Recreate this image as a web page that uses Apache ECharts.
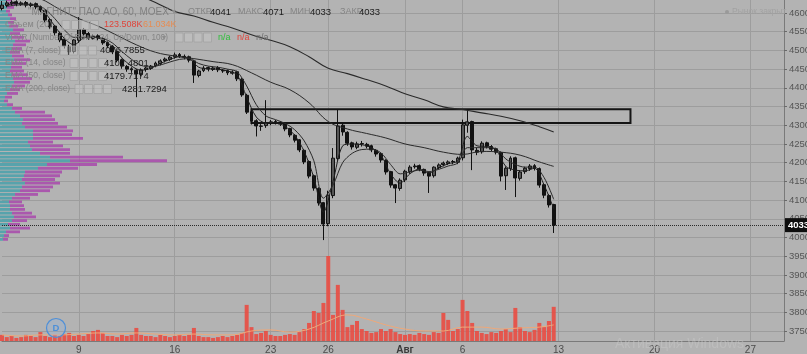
<!DOCTYPE html>
<html>
<head>
<meta charset="utf-8">
<style>
  html, body { margin: 0; padding: 0; background: #b3b3b3; }
  #chart { width: 807px; height: 354px; }
</style>
<script src="https://cdn.jsdelivr.net/npm/echarts@6/dist/echarts.min.js"></script>
</head>
<body>
<div id="chart"></div>
<script>
// hourly MOEX chart squeezed into 4 slots per trading day (Jul 3 .. Aug 31 2018)
const totalSlots = 164
const dayLabels = ['9', '16', '23', '26', 'Авг', '6', '13', '20', '27']
const dayLabelIdx = [4, 9, 14, 17, 21, 24, 29, 34, 39]

const opens = [4612,4620,4626,4630,4623,4628,4620,4625,4617,4607,4582,4565,4546,4530,4510,4497,4527,4556,4545,4532,
  4539,4532,4521,4511,4497,4475,4457,4451,4447,4436,4449,4452,4459,4465,4473,4476,4483,4489,4484,4483,
  4472,4433,4446,4454,4449,4454,4447,4446,4439,4443,4423,4380,4336,4312,4297,4299,4305,4310,4308,4304,
  4291,4273,4261,4233,4203,4165,4131,4093,4037,4112,4211,4300,4281,4253,4241,4251,4249,4245,4233,4224,
  4206,4176,4141,4131,4154,4176,4189,4192,4182,4173,4165,4187,4195,4198,4203,4201,4213,4300,4310,4233,
  4229,4253,4243,4237,4227,4165,4184,4213,4158,4176,4184,4192,4184,4141,4112,4088]
const closes = [4621,4627,4629,4624,4627,4621,4624,4616,4608,4581,4563,4547,4528,4512,4496,4528,4555,4544,4533,4538,
  4533,4520,4512,4496,4474,4458,4450,4448,4437,4448,4453,4458,4466,4472,4477,4482,4488,4485,4482,4474,
  4434,4445,4453,4450,4453,4448,4445,4440,4442,4424,4381,4335,4311,4298,4298,4306,4309,4309,4303,4290,
  4274,4260,4234,4202,4164,4132,4092,4036,4113,4212,4298,4282,4252,4242,4250,4250,4244,4234,4223,4207,
  4175,4140,4132,4153,4177,4188,4191,4183,4172,4164,4188,4194,4199,4202,4202,4212,4301,4309,4234,4228,
  4252,4244,4236,4228,4164,4185,4212,4159,4175,4185,4191,4185,4140,4113,4087,4033]
const lows = [4607,4615,4620,4618,4619,4615,4615,4610,4602,4575,4557,4540,4522,4505,4488,4492,4520,4538,4528,4528,
  4527,4515,4506,4490,4468,4451,4443,4440,4375,4430,4443,4448,4455,4460,4468,4472,4478,4480,4476,4468,
  4413,4428,4442,4444,4445,4442,4440,4434,4435,4418,4376,4330,4302,4270,4285,4293,4300,4302,4298,4284,
  4268,4254,4228,4196,4158,4125,4085,3993,4030,4105,4205,4272,4245,4235,4236,4243,4238,4228,4216,4200,
  4168,4133,4092,4125,4148,4170,4184,4177,4165,4119,4160,4182,4190,4194,4196,4196,4206,4280,4180,4220,
  4224,4238,4230,4222,4150,4127,4178,4108,4152,4170,4178,4179,4133,4105,4080,4012]
const highs = [4632,4633,4634,4634,4631,4632,4628,4628,4620,4610,4586,4568,4550,4534,4515,4530,4589,4560,4549,4542,
  4543,4536,4524,4514,4499,4478,4461,4455,4450,4452,4456,4461,4470,4476,4481,4486,4494,4493,4489,4486,
  4475,4448,4458,4457,4457,4458,4450,4449,4447,4446,4426,4384,4345,4316,4303,4367,4314,4314,4311,4307,
  4293,4276,4263,4236,4206,4168,4134,4095,4125,4239,4341,4305,4284,4256,4256,4258,4253,4248,4236,4226,
  4209,4178,4143,4158,4181,4193,4197,4195,4184,4175,4190,4198,4203,4206,4207,4216,4315,4341,4312,4240,
  4257,4256,4247,4240,4230,4190,4217,4216,4180,4189,4196,4196,4187,4144,4116,4090]

// volume, thousands of shares
const volumes = [22,14,18,11,14,22,18,14,32,18,14,22,18,25,29,18,
  22,18,25,36,40,29,18,18,14,22,18,22,47,22,18,
  18,14,22,18,14,18,22,18,22,47,18,14,14,11,14,18,14,
  18,22,29,130,50,25,29,36,22,18,18,22,25,
  22,32,43,65,108,101,137,306,94,202,112,50,
  58,72,43,36,29,32,43,36,43,32,25,22,25,22,29,25,22,32,29,101,76,36,43,
  148,108,65,36,29,25,32,29,36,43,32,119,50,36,32,40,65,50,72,123]

const maSlots = [0,4,8,12,16,20,24,28,32,36,40,44,48,52,56,60,64,68,72,76,80,84,88,92,96,100,104,108,112,115]
const volumeMa = [22,18,22,22,25,29,25,29,25,22,25,22,22,36,40,32,43,72,94,79,58,43,36,36,50,50,43,47,50,58]
const ema50 = [4660,4650,4638,4610,4585,4565,4540,4515,4495,4485,4478,4470,4462,4440,4415,4395,4360,4310,4290,4278,
  4266,4250,4240,4228,4222,4230,4228,4220,4202,4190]
const ema200 = [4760,4745,4725,4710,4700,4685,4670,4650,4628,4604,4592,4575,4560,4542,4527,4510,4483,4452,4438,4422,
  4405,4384,4368,4349,4342,4333,4324,4312,4296,4282]

const fastSlots = [1,3,5,7,9,11,13,15,17,19,21,23,25,27,29,31,33,35,37,39,41,43,45,47,49,51,53,55,57,59,
  61,63,65,67,69,71,73,75,77,79,81,83,85,87,89,91,93,95,97,99,101,103,105,107,109,111,113,115]
const ema7 = [4622,4625,4624,4620,4600,4565,4532,4515,4533,4536,4528,4510,4480,4458,4447,4452,4465,4476,4483,4479,
  4455,4451,4450,4445,4435,4375,4322,4306,4307,4297,4273,4230,4160,4068,4150,4245,4250,4248,4240,4220,
  4170,4145,4170,4183,4172,4186,4197,4205,4270,4245,4243,4234,4190,4180,4178,4185,4140,4077]
const ema14 = [4618,4621,4622,4621,4610,4585,4555,4535,4535,4536,4532,4520,4497,4476,4460,4456,4461,4469,4476,4478,
  4465,4458,4455,4450,4443,4405,4355,4325,4315,4305,4288,4258,4205,4105,4140,4200,4225,4235,4236,4226,
  4195,4170,4175,4180,4176,4182,4191,4199,4240,4240,4240,4237,4210,4195,4188,4188,4160,4102]

// visible range volume profile, 10-rouble rows from 3990 upwards
const profileLow = 3990
const profileUp = [3,4,6,10,8,12,14,12,10,10,9,12,15,20,22,25,22,24,25,38,47,70,50,40,32,30,28,33,33,33,
  25,22,23,20,15,12,7,4,5,7,10,12,14,13,12,10,11,12,14,12,10,12,13,15,12,10,13,9,8,10,8,6,7,8,6]
const profileDown = [5,5,14,20,12,15,22,20,15,14,13,18,23,30,31,35,33,36,37,40,50,97,73,30,38,33,25,50,39,40,
  42,36,32,32,30,10,6,4,7,11,10,13,16,19,16,14,11,14,16,12,10,10,13,15,12,10,11,9,6,6,4,4,7,8,6]

const lastPrice = 4033
const boxTop = 4343
const boxBottom = 4306
const boxFrom = '52'
const boxTo = '131'

const FONT = '"Liberation Sans", Arial, sans-serif'
const slotNames = Array.from({ length: totalSlots }, (_, i) => String(i))
const labelSlots = dayLabelIdx.map(d => d * 4)
const profileRows = profileUp.map((_, k) => String(profileLow + k * 10))

const candles = opens.map((o, i) => [o, closes[i], lows[i], highs[i]])
const pairs = (slots, vals) => slots.map((s, k) => [String(s), vals[k]])

function txt (x, y, text, fill, size, weight) {
  return {
    type: 'text', x: x, y: y, z: 100,
    style: { text: text, fill: fill, font: (weight || 'normal') + ' ' + size + 'px ' + FONT, verticalAlign: 'middle' }
  }
}
function icons (x, y) {
  let out = []
  for (let k = 0; k < 4; k++) {
    out.push({ type: 'rect', z: 99, shape: { x: x + k * 9.5, y: y - 4.5, width: 8, height: 9 },
      style: { fill: 'rgba(200,200,200,0.5)', stroke: 'rgba(160,160,160,0.7)', lineWidth: 1 } })
  }
  return out
}

const LBL = '#858585'
const VAL = '#1c1c1c'
const graphics = [].concat(
  [txt(28, 12, '"МАГНИТ" ПАО АО, 60, MOEX', '#808080', 10),
   txt(172, 12, '▾', '#8c8c8c', 8),
   txt(188, 12, 'ОТКР', LBL, 9), txt(210, 12, '4041', VAL, 9.5),
   txt(238, 12, 'МАКС', LBL, 9), txt(263, 12, '4071', VAL, 9.5),
   txt(290, 12, 'МИН', LBL, 9), txt(310, 12, '4033', VAL, 9.5),
   txt(340, 12, 'ЗАКР', LBL, 9), txt(359, 12, '4033', VAL, 9.5),
   txt(5, 25, 'Объем (20)', LBL, 9),
   txt(104, 25, '123.508K', '#e0443a', 9), txt(143, 25, '61.034K', '#e68c52', 9),
   txt(5, 37.5, 'VPVR (Number Of Rows, 24, Up/Down, 100)', LBL, 8.2),
   txt(162, 37.5, '▾', '#8c8c8c', 8),
   txt(218, 37.5, 'n/a', '#2fbf3a', 9), txt(237, 37.5, 'n/a', '#e0443a', 9), txt(256, 37.5, 'n/a', '#6e6e6e', 9),
   txt(5, 50.5, 'EMA (7, close)', LBL, 8.5), txt(100, 50.5, '4076.7855', VAL, 9.5),
   txt(5, 63, 'EMA (14, close)', LBL, 8.5), txt(104, 63, '4102.4801', VAL, 9.5),
   txt(5, 76, 'EMA (50, close)', LBL, 8.5), txt(104, 76, '4179.7174', VAL, 9.5),
   txt(5, 89, 'EMA (200, close)', LBL, 8.5), txt(122, 89, '4281.7294', VAL, 9.5),
   txt(732, 12, 'Рынок закрыт', '#a2a2a2', 8.5),
   { type: 'circle', z: 100, shape: { cx: 727, cy: 12, r: 2 }, style: { fill: '#9a9a9a' } },
   txt(615, 344, 'Активация Windows', 'rgba(200,200,200,0.5)', 14),
   { type: 'circle', z: 100, shape: { cx: 56, cy: 328, r: 9.5 },
     style: { fill: 'rgba(140,180,230,0.25)', stroke: '#4d8fd8', lineWidth: 1.2 } },
   txt(52.5, 328, 'D', '#4d8fd8', 9.5, 'bold')],
  icons(62, 25), icons(175, 37.5), icons(60, 50.5), icons(70, 63), icons(70, 76), icons(75, 89)
)

const chart = echarts.init(document.getElementById('chart'))
chart.setOption({
  animation: false,
  backgroundColor: '#b3b3b3',
  textStyle: { fontFamily: FONT },
  graphic: graphics,
  grid: [
    { left: 2, right: 23, top: -5.71, bottom: 4.29, containLabel: false, outerBoundsMode: 'none' },
    { left: 2, right: 23, top: 241, bottom: 13, containLabel: false, outerBoundsMode: 'none' },
    { left: 0, right: 23, top: -1.96, bottom: 112.8, containLabel: false, outerBoundsMode: 'none' },
    { left: 2, right: 23, top: 0, bottom: 13, containLabel: false, outerBoundsMode: 'none' }
  ],
  xAxis: [
    { type: 'category', gridIndex: 0, data: slotNames, boundaryGap: false, show: false },
    { type: 'category', gridIndex: 1, data: slotNames, boundaryGap: false, show: false },
    { type: 'value', gridIndex: 2, min: 0, max: 784, show: false },
    {
      type: 'category', gridIndex: 3, data: slotNames, boundaryGap: false, position: 'bottom',
      axisLine: { show: true, lineStyle: { color: '#7a7a7a', width: 1 } },
      axisTick: { show: false },
      axisLabel: {
        interval: (i) => labelSlots.includes(i),
        formatter: (v) => {
          const k = labelSlots.indexOf(Number(v))
          if (k < 0) return ''
          return dayLabels[k] === 'Авг' ? '{b|Авг}' : dayLabels[k]
        },
        color: '#4a4a4a', fontSize: 10, margin: 4,
        rich: { b: { fontWeight: 'bold', color: '#3a3a3a', fontSize: 10 } }
      },
      splitLine: { show: true, interval: (i) => labelSlots.includes(i), lineStyle: { color: '#9d9d9d', width: 1 } }
    }
  ],
  yAxis: [
    {
      type: 'value', gridIndex: 0, position: 'right', min: 3700, max: 4650, interval: 50,
      axisLine: { show: false },
      axisTick: { show: true, length: 3, lineStyle: { color: '#6a6a6a' } },
      axisLabel: { color: '#555', fontSize: 9.5, margin: 5, showMinLabel: false, showMaxLabel: false,
        formatter: (v) => String(v) },
      splitLine: { show: true, showMinLine: false, showMaxLine: false, lineStyle: { color: '#9d9d9d', width: 1 } }
    },
    { type: 'value', gridIndex: 1, min: 0, max: 360, show: false },
    { type: 'category', gridIndex: 2, data: profileRows, show: false },
    {
      type: 'value', gridIndex: 3, position: 'right', min: 0, max: 1,
      axisLine: { show: true, lineStyle: { color: '#7a7a7a', width: 1 } },
      axisTick: { show: false }, axisLabel: { show: false }, splitLine: { show: false }
    }
  ],
  series: [
    {
      type: 'bar', name: 'vp up', xAxisIndex: 2, yAxisIndex: 2, stack: 'vp', z: 1,
      data: profileUp, barCategoryGap: '25%',
      itemStyle: { color: 'rgba(70,160,170,0.85)' }
    },
    {
      type: 'bar', name: 'vp down', xAxisIndex: 2, yAxisIndex: 2, stack: 'vp', z: 1,
      data: profileDown, barCategoryGap: '25%',
      itemStyle: { color: 'rgba(168,72,172,0.85)' }
    },
    {
      type: 'bar', name: 'volume', xAxisIndex: 1, yAxisIndex: 1, z: 2,
      data: volumes, barWidth: 4,
      itemStyle: { color: 'rgba(232,78,68,0.92)' }
    },
    {
      type: 'line', name: 'volume ma', xAxisIndex: 1, yAxisIndex: 1, z: 3,
      data: pairs(maSlots, volumeMa), smooth: 0.4, symbol: 'none',
      lineStyle: { color: '#f0a878', width: 1 }
    },
    {
      type: 'candlestick', name: 'MGNT', xAxisIndex: 0, yAxisIndex: 0, z: 5,
      data: candles, barWidth: 3.4,
      itemStyle: { color: '#555', color0: '#111', borderColor: '#111', borderColor0: '#111', borderWidth: 1 },
      markArea: {
        silent: true,
        itemStyle: { color: 'rgba(0,0,0,0)', borderColor: '#151515', borderWidth: 2 },
        data: [[{ xAxis: boxFrom, yAxis: boxTop }, { xAxis: boxTo, yAxis: boxBottom }]]
      },
      markLine: {
        silent: true, symbol: ['none', 'none'],
        lineStyle: { color: '#2a2a2a', type: 'dotted', width: 1 },
        label: {
          position: 'end', formatter: String(lastPrice), distance: 1,
          backgroundColor: '#0e0e0e', color: '#fff', fontSize: 9.5, fontWeight: 'bold', padding: [2, 4, 2, 3]
        },
        data: [{ yAxis: lastPrice }]
      }
    },
    {
      type: 'line', name: 'EMA 7', xAxisIndex: 0, yAxisIndex: 0, z: 6,
      data: pairs(fastSlots, ema7), smooth: 0.3, symbol: 'none',
      lineStyle: { color: '#1e1e1e', width: 1 }
    },
    {
      type: 'line', name: 'EMA 14', xAxisIndex: 0, yAxisIndex: 0, z: 6,
      data: pairs(fastSlots, ema14), smooth: 0.3, symbol: 'none',
      lineStyle: { color: '#2a2a2a', width: 1 }
    },
    {
      type: 'line', name: 'EMA 50', xAxisIndex: 0, yAxisIndex: 0, z: 6,
      data: pairs(maSlots, ema50), smooth: 0.4, symbol: 'none',
      lineStyle: { color: '#2a2a2a', width: 1 }
    },
    {
      type: 'line', name: 'EMA 200', xAxisIndex: 0, yAxisIndex: 0, z: 6,
      data: pairs(maSlots, ema200), smooth: 0.4, symbol: 'none',
      lineStyle: { color: '#2a2a2a', width: 1.1 }
    }
  ]
})
</script>
</body>
</html>
